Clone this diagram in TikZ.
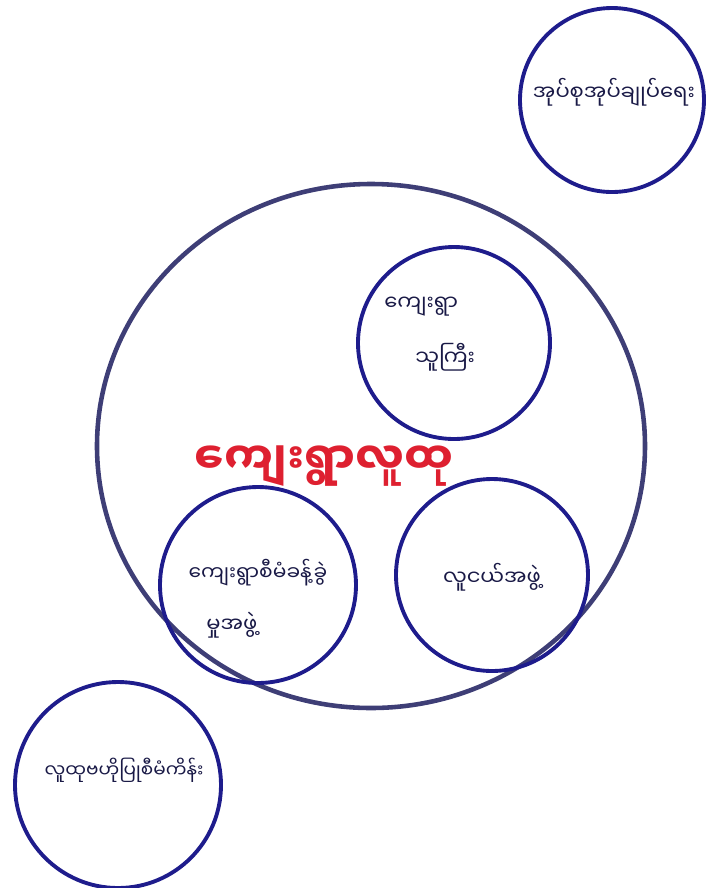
\documentclass[tikz,border=0pt]{standalone}
\usepackage{fontspec}
\newfontfamily\mmfont[Script=Myanmar]{Noto Sans Myanmar UI}
\definecolor{penblue}{RGB}{30,28,140}
\definecolor{ringgray}{RGB}{62,62,118}
\definecolor{inkred}{RGB}{222,32,48}
\definecolor{inknavy}{RGB}{25,25,70}

\begin{document}
\begin{tikzpicture}[x=0.2mm,y=-0.2mm,
  ringline/.style={draw=penblue,line width=2.2pt},
  mmtext/.style={font=\mmfont\fontsize{12}{14}\selectfont,text=inknavy,inner sep=0pt},
  mmtitle/.style={font=\mmfont\fontsize{25}{28}\selectfont\bfseries,text=inkred,inner sep=0pt}]
\useasboundingbox (0,0) rectangle (710,888);
% outer ring: the village community
\draw[draw=ringgray,line width=2.6pt] (371,446) coordinate (community) ellipse [x radius=274,y radius=262];
\node[mmtitle] (communitylbl) at (324,466) {ကျေးရွာလူထု};
% groups inside
\draw[ringline] (454,343) coordinate (headman) circle [radius=96];
\node[mmtext,anchor=west] (headmanA) at (384,307) {ကျေးရွာ};
\node[mmtext,anchor=west] (headmanB) at (415,357) {သူကြီး};
\draw[ringline] (258,585) coordinate (committee) circle [radius=98];
\node[mmtext,font=\mmfont\fontsize{11.5}{14}\selectfont] (committeeA) at (258,573) {ကျေးရွာစီမံခန့်ခွဲ};
\node[mmtext,anchor=west] (committeeB) at (206,625) {မှုအဖွဲ့};
\draw[ringline] (492,575) coordinate (youth) circle [radius=96];
\node[mmtext] (youthlbl) at (492,577) {လူငယ်အဖွဲ့};
% outside
\draw[ringline] (612,100) coordinate (tract) circle [radius=92];
\node[mmtext] (tractlbl) at (614,92) {အုပ်စုအုပ်ချုပ်ရေး};
\draw[ringline] (118,785) coordinate (project) circle [radius=103];
\node[mmtext,font=\mmfont\fontsize{10.5}{12}\selectfont] (projectlbl) at (124,770) {လူထုဗဟိုပြုစီမံကိန်း};
\end{tikzpicture}
\end{document}
